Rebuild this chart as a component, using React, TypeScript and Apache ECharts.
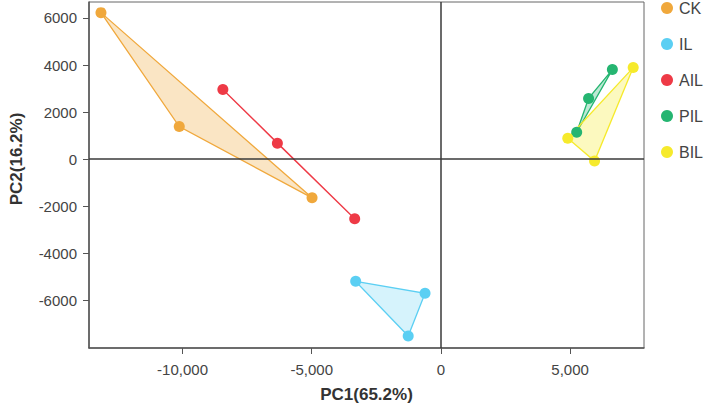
import React, { useEffect, useRef } from 'react';
import * as echarts from 'echarts';

const groupNames = ['CK', 'IL', 'AIL', 'PIL', 'BIL'];
const groupColors = ['#F0A83C', '#5BCFF3', '#EE3A46', '#25B571', '#F6EA2C'];
const groupFills = [
  'rgba(240,168,60,0.30)',
  'rgba(91,207,243,0.25)',
  'rgba(238,58,70,0.25)',
  'rgba(37,181,113,0.30)',
  'rgba(246,234,44,0.30)',
];

const ckX = [-13157, -10127, -4987];
const ckY = [6228, 1383, -1649];
const ilX = [-3299, -614, -1266];
const ilY = [-5200, -5708, -7526];
const ailX = [-8439, -6329, -3337];
const ailY = [2960, 676, -2537];
const pilX = [6636, 5715, 5255];
const pilY = [3805, 2579, 1142];
const bilX = [7442, 4910, 5946];
const bilY = [3890, 888, -85];

const groupXs = [ckX, ilX, ailX, pilX, bilX];
const groupYs = [ckY, ilY, ailY, pilY, bilY];

const xTicks = [-10000, -5000, 0, 5000];
const yTicks = [-6000, -4000, -2000, 0, 2000, 4000, 6000];

const xMin = -13620;
const xMax = 7860;
const yMin = -8034;
const yMax = 6680;

const FONT = '"Liberation Sans", Arial, sans-serif';

export default function App() {
  const ref = useRef<HTMLDivElement>(null);
  useEffect(() => {
    if (!ref.current) return;
    const chart = echarts.init(ref.current, undefined, { renderer: 'svg' });

    const hullSeries = groupNames.map((name, gi) => {
      const xs = groupXs[gi];
      const ys = groupYs[gi];
      return {
        type: 'custom',
        name,
        silent: true,
        z: 1,
        data: xs.map((x, i) => [x, ys[i]]),
        renderItem: (params: any, api: any) => {
          if (params.dataIndex !== 0) return null;
          const pts = xs.map((x, i) => api.coord([x, ys[i]]));
          return {
            type: 'polygon',
            shape: { points: pts },
            style: { fill: groupFills[gi], stroke: groupColors[gi], lineWidth: 1.3 },
          };
        },
        ...(gi === 0
          ? {
              markLine: {
                silent: true,
                symbol: 'none',
                label: { show: false },
                lineStyle: { color: '#3a3a3a', width: 1.5, type: 'solid' },
                data: [{ xAxis: 0 }, { yAxis: 0 }],
              },
            }
          : {}),
      };
    });

    const pointSeries = groupNames.map((name, gi) => ({
      type: 'scatter',
      name,
      z: 3,
      symbol: 'circle',
      symbolSize: 11,
      itemStyle: { color: groupColors[gi], opacity: 1 },
      data: groupXs[gi].map((x, i) => [x, groupYs[gi][i]]),
    }));

    chart.setOption({
      animation: false,
      textStyle: { fontFamily: FONT },
      grid: {
        left: 84,
        right: 65,
        top: 2,
        bottom: 58,
        show: true,
        borderColor: '#666',
        borderWidth: 1,
      },
      legend: {
        orient: 'vertical',
        left: 661,
        top: 0,
        padding: 0,
        itemGap: 20,
        itemWidth: 14,
        itemHeight: 12,
        icon: 'circle',
        data: groupNames,
        textStyle: { fontSize: 16, color: '#444', lineHeight: 16, fontFamily: FONT },
      },
      xAxis: {
        type: 'value',
        min: xMin,
        max: xMax,
        name: 'PC1(65.2%)',
        nameLocation: 'middle',
        nameGap: 38,
        nameTextStyle: { fontSize: 17, fontWeight: 'bold', color: '#333', fontFamily: FONT },
        splitLine: { show: false },
        axisLine: { show: true, onZero: false, lineStyle: { color: '#555', width: 1.5 } },
        axisTick: { show: true, length: 6, customValues: xTicks, lineStyle: { color: '#555' } },
        axisLabel: {
          customValues: xTicks,
          margin: 14,
          fontSize: 15,
          color: '#444',
          fontFamily: FONT,
          formatter: (v: number) => v.toLocaleString('en-US'),
        },
      },
      yAxis: {
        type: 'value',
        min: yMin,
        max: yMax,
        name: 'PC2(16.2%)',
        nameLocation: 'middle',
        nameGap: 64,
        nameTextStyle: {
          fontSize: 17,
          fontWeight: 'bold',
          color: '#333',
          fontFamily: FONT,
          padding: [0, 0, 0, 32],
        },
        splitLine: { show: false },
        axisLine: { show: true, onZero: false, lineStyle: { color: '#555', width: 1.5 } },
        axisTick: { show: true, length: 6, customValues: yTicks, lineStyle: { color: '#555' } },
        axisLabel: {
          customValues: yTicks,
          margin: 12,
          fontSize: 15,
          color: '#444',
          fontFamily: FONT,
          formatter: (v: number) => String(v),
        },
      },
      series: [...pointSeries, ...hullSeries],
    });
    return () => chart.dispose();
  }, []);
  return (
    <div
      ref={ref}
      style={{ position: 'fixed', left: 0, top: 0, width: 709, height: 408, background: '#fff' }}
    />
  );
}
